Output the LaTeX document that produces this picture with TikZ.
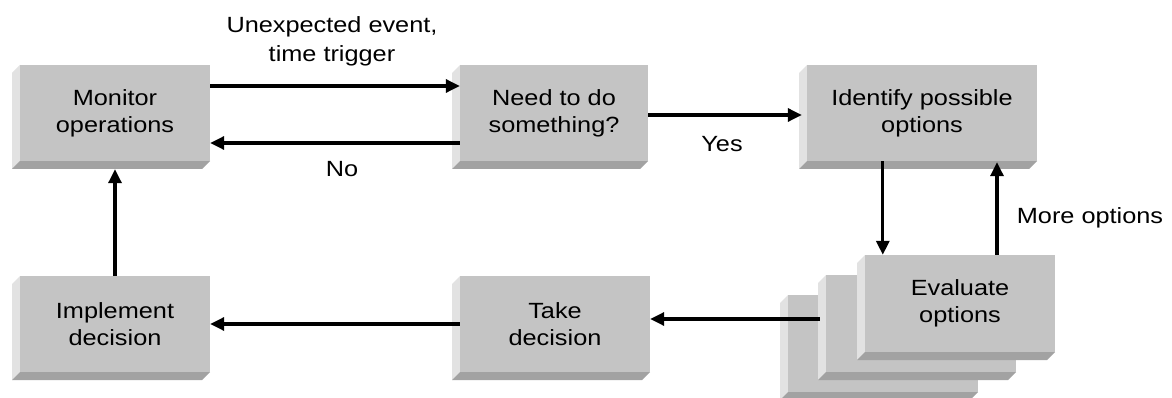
\documentclass[tikz,border=0pt]{standalone}
\usepackage{fontspec}
\usepackage{graphicx}
\setmainfont{Liberation Sans}
\usetikzlibrary{arrows.meta,calc}
\definecolor{facec}{HTML}{C4C4C4}
\definecolor{bevl}{HTML}{E2E2E2}
\definecolor{bevd}{HTML}{A2A2A2}
\newcommand\sx[1]{\scalebox{1.15}[1]{#1}}
\newcommand\mkbox[6]{%
  \fill[bevl] (#2,#3) -- (#2-8,#3+8) -- (#2-8,#5+8) -- (#2,#5) -- cycle;
  \fill[bevd] (#2,#5) -- (#4,#5) -- (#4-8,#5+8) -- (#2-8,#5+8) -- cycle;
  \node[face, minimum width=#4pt-#2pt, minimum height=#5pt-#3pt] (#1) at ({(#2+#4)/2},{(#3+#5)/2}) {#6};
}
\begin{document}
\begin{tikzpicture}[x=1pt,y=-1pt,
  face/.style={fill=facec, inner sep=0pt, align=center, font=\fontsize{22}{27}\selectfont},
  lab/.style={inner sep=0pt, align=center, font=\fontsize{22}{29}\selectfont},
  arr/.style={line width=3.2pt, -{Triangle[length=14pt,width=13pt]}}]
\useasboundingbox (0,0) rectangle (1172,398);
\fill[white] (0,0) rectangle (1172,398);
% boxes
\mkbox{mon}{20}{65}{210}{161}{\sx{Monitor}\\\sx{operations}}
\mkbox{need}{460}{65}{648}{161}{\sx{Need to do}\\\sx{something?}}
\mkbox{ident}{807}{65}{1037}{161}{\sx{Identify possible}\\\sx{options}}
\mkbox{impl}{20}{276}{210}{372}{\sx{Implement}\\\sx{decision}}
\mkbox{take}{460}{276}{650}{372}{\sx{Take}\\\sx{decision}}
\mkbox{evalc}{788}{295}{978}{392}{}
\mkbox{evalb}{826}{275}{1016}{372}{}
\mkbox{eval}{865}{255}{1055}{352}{\sx{Evaluate}\\\sx{options}}
% connectors
\draw[arr] ([yshift=27pt]mon.east) -- ([yshift=27pt]need.west);
\draw[arr] ([yshift=-30pt]need.west) -- ([yshift=-30pt]mon.east);
\draw[arr] ([yshift=-2pt]need.east) -- ([yshift=-2pt,xshift=-5pt]ident.west);
\coordinate (d1) at ([xshift=18pt]eval.north west);
\draw[arr] (d1 |- ident.south) -- (d1);
\coordinate (u1) at ([xshift=37pt]eval.north);
\draw[arr] (u1) -- ([yshift=-1pt]u1 |- ident.south);
\coordinate (e1) at ([yshift=4.5pt,xshift=-6pt]evalb.west);
\draw[arr] (e1) -- (e1 -| take.east);
\draw[arr] (take.west) -- (impl.east);
\draw[arr] (impl.north) -- ([yshift=-8pt]mon.south);
% labels
\node[lab] (lev) at (332,41) {\sx{Unexpected event,}\\\sx{time trigger}};
\node[lab, anchor=base] (lno) at (342,177) {\sx{No}};
\node[lab, anchor=base] (lyes) at (722,152) {\sx{Yes}};
\node[lab, anchor=base] (lmore) at (1090,223) {\sx{More options}};
\end{tikzpicture}
\end{document}
